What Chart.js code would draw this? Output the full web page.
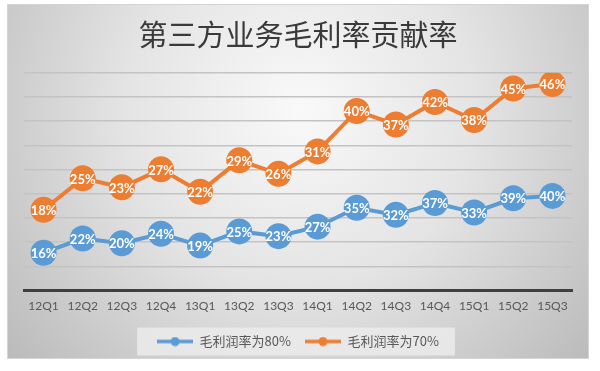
<!DOCTYPE html>
<html>
<head>
<meta charset="utf-8">
<script src="https://cdn.jsdelivr.net/npm/chart.js@4"></script>
<style>
  html, body { margin: 0; padding: 0; background: #fff; }
  #wrap { width: 600px; height: 371px; }
</style>
</head>
<body>
<div id="wrap"><canvas id="marginChart"></canvas></div>
<script>
var quarters = ["12Q1", "12Q2", "12Q3", "12Q4", "13Q1", "13Q2", "13Q3",
                "14Q1", "14Q2", "14Q3", "14Q4", "15Q1", "15Q2", "15Q3"];
var margin80 = [16, 22, 20, 24, 19, 25, 23, 27, 35, 32, 37, 33, 39, 40];
var margin70 = [18, 25, 23, 27, 22, 29, 26, 31, 40, 37, 42, 38, 45, 46];

var blue = "#5b9bd5";
var orange = "#ed7d31";

// little line + dot used as legend marker
function legendMarker(color) {
  var c = document.createElement("canvas");
  c.width = 36;
  c.height = 10;
  var g = c.getContext("2d");
  g.strokeStyle = color;
  g.lineWidth = 3.5;
  g.beginPath();
  g.moveTo(0, 5);
  g.lineTo(36, 5);
  g.stroke();
  g.fillStyle = color;
  g.beginPath();
  g.arc(18, 5, 4.5, 0, Math.PI * 2);
  g.fill();
  return c;
}

var frame = {
  id: "frame",
  beforeDraw: function (chart) {
    var ctx = chart.ctx;
    ctx.save();
    ctx.fillStyle = "#ffffff";
    ctx.fillRect(0, 0, chart.width, chart.height);
    var grad = ctx.createRadialGradient(300, 110, 0, 300, 110, 390);
    grad.addColorStop(0, "#f9f9f9");
    grad.addColorStop(0.45, "#e4e4e4");
    grad.addColorStop(1, "#b9b9b9");
    ctx.fillStyle = grad;
    ctx.fillRect(7, 4, 582, 355);
    ctx.strokeStyle = "#d4d4d4";
    ctx.lineWidth = 1;
    ctx.strokeRect(7.5, 4.5, 581, 354);

    // legend background
    var boxes = chart.legend.legendHitBoxes;
    if (boxes && boxes.length) {
      var l = boxes[0].left - 20;
      var last = boxes[boxes.length - 1];
      var r = last.left + last.width + 16;
      var cy = boxes[0].top + boxes[0].height / 2;
      ctx.fillStyle = "rgba(235,235,235,0.85)";
      ctx.fillRect(l, cy - 14, r - l, 28);
    }
    ctx.restore();
  }
};

var pointLabels = {
  id: "pointLabels",
  afterDatasetsDraw: function (chart) {
    var ctx = chart.ctx;
    ctx.save();
    ctx.fillStyle = "#ffffff";
    ctx.font = "bold 13px Lato";
    ctx.textAlign = "center";
    ctx.textBaseline = "middle";
    chart.data.datasets.forEach(function (ds, i) {
      chart.getDatasetMeta(i).data.forEach(function (pt, j) {
        ctx.fillText(ds.data[j] + "%", pt.x, pt.y + 1);
      });
    });
    ctx.restore();
  }
};

var ctx1 = document.getElementById("marginChart").getContext("2d");
var marginChart = new Chart(ctx1, {
  type: "line",
  data: {
    labels: quarters,
    datasets: [
      {
        label: "毛利润率为80%",
        data: margin80,
        yAxisID: "y1",
        borderColor: blue,
        backgroundColor: blue,
        borderWidth: 4,
        pointRadius: 13,
        pointHoverRadius: 13,
        pointBorderWidth: 0,
        pointStyle: "circle",
        fill: false,
      },
      {
        label: "毛利润率为70%",
        data: margin70,
        yAxisID: "y",
        borderColor: orange,
        backgroundColor: orange,
        borderWidth: 4,
        pointRadius: 13,
        pointHoverRadius: 13,
        pointBorderWidth: 0,
        pointStyle: "circle",
        fill: false,
      },
    ],
  },
  options: {
    responsive: true,
    maintainAspectRatio: false,
    animation: false,
    layout: { padding: { left: 24, right: 28, top: 6, bottom: 13 } },
    plugins: {
      title: {
        display: true,
        text: "第三方业务毛利率贡献率",
        color: "#3a3a3a",
        font: { family: "'Noto Sans CJK SC'", size: 29, weight: "normal" },
        padding: { top: 12, bottom: 20 },
      },
      legend: {
        position: "bottom",
        labels: {
          color: "#595959",
          font: { family: "'Noto Sans CJK SC'", size: 13 },
          usePointStyle: true,
          pointStyleWidth: 36,
          padding: 14,
          generateLabels: function (chart) {
            return chart.data.datasets.map(function (ds, i) {
              return {
                text: ds.label,
                pointStyle: legendMarker(ds.borderColor),
                fillStyle: ds.borderColor,
                strokeStyle: ds.borderColor,
                lineWidth: 0,
                fontColor: "#595959",
                datasetIndex: i,
              };
            });
          },
        },
      },
      tooltip: { enabled: false },
    },
    scales: {
      x: {
        offset: true,
        grid: { display: false, drawTicks: false },
        border: { color: "#3f3f3f", width: 3 },
        ticks: {
          color: "#595959",
          font: { family: "Lato", size: 12 },
          padding: 8,
          maxRotation: 0,
          autoSkip: false,
        },
      },
      y: {
        min: 0,
        max: 48.5,
        ticks: { display: false, count: 10 },
        border: { display: false },
        grid: {
          drawTicks: false,
          lineWidth: 1.5,
          color: function (c) {
            return c.tick && c.tick.value === 0 ? "rgba(0,0,0,0)" : "#c3c3c3";
          },
        },
      },
      y1: {
        display: false,
        min: 0,
        max: 92,
      },
    },
  },
  plugins: [frame, pointLabels],
});
</script>
</body>
</html>
